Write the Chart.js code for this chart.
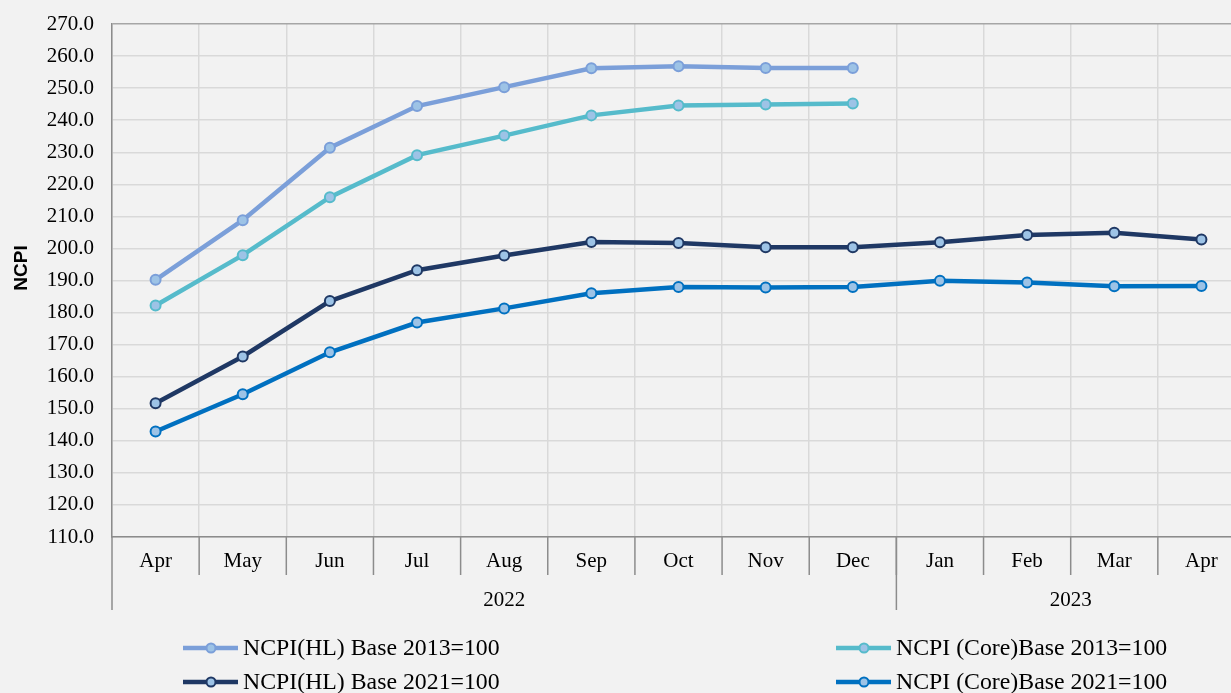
<!DOCTYPE html>
<html>
<head>
<meta charset="utf-8">
<script src="https://cdn.jsdelivr.net/npm/chart.js@4.4.0/dist/chart.umd.min.js"></script>
<style>
  html, body { margin: 0; padding: 0; background: #f2f2f2; overflow: hidden; }
  #wrap { width: 1231px; height: 693px; overflow: hidden; }
  canvas { display: block; }
</style>
</head>
<body>
<div id="wrap"><canvas id="ncpiChart" width="1252" height="693"></canvas></div>
<script>
const months = ['Apr', 'May', 'Jun', 'Jul', 'Aug', 'Sep', 'Oct', 'Nov', 'Dec', 'Jan', 'Feb', 'Mar', 'Apr'];
const years = ['2022', '2023'];
const yearSpans = [9, 4]; // number of months in each year group

const hl2013 = [190.2, 208.8, 231.4, 244.4, 250.3, 256.2, 256.8, 256.3, 256.3, null, null, null, null];
const core2013 = [182.2, 197.9, 216.0, 229.1, 235.2, 241.5, 244.6, 244.9, 245.2, null, null, null, null];
const hl2021 = [151.7, 166.3, 183.6, 193.2, 197.8, 202.0, 201.7, 200.4, 200.4, 201.9, 204.2, 204.9, 202.8];
const core2021 = [142.9, 154.5, 167.6, 176.9, 181.3, 186.0, 188.0, 187.8, 188.0, 189.9, 189.4, 188.2, 188.3];

const seriesNames = ['NCPI(HL) Base 2013=100', 'NCPI (Core)Base 2013=100', 'NCPI(HL) Base 2021=100', 'NCPI (Core)Base 2021=100'];
const lineColors = ['#7b9fd9', '#56bbcb', '#1f3864', '#0070c0'];
const markerFill = '#9dc3e6';

const serif = '"Liberation Serif", "Times New Roman", serif';

function makeSet(i, data) {
  return {
    label: seriesNames[i],
    data: data,
    borderColor: lineColors[i],
    backgroundColor: markerFill,
    borderWidth: 4.5,
    pointRadius: 5,
    pointBorderWidth: 2,
    pointBorderColor: lineColors[i],
    pointBackgroundColor: markerFill,
    tension: 0,
    spanGaps: false
  };
}

// month labels, two-level year labels, and the legend
const extrasPlugin = {
  id: 'extras',
  afterDraw(chart) {
    const ctx = chart.ctx;
    const x = chart.scales.x;
    const area = chart.chartArea;
    const half = (x.getPixelForValue(1) - x.getPixelForValue(0)) / 2;
    const bottom = area.bottom;

    ctx.save();
    ctx.strokeStyle = '#8c8c8c';
    ctx.lineWidth = 1.5;
    ctx.fillStyle = '#000';
    ctx.textAlign = 'center';
    ctx.textBaseline = 'middle';
    ctx.font = '21px ' + serif;

    // month row
    months.forEach((m, i) => {
      const cx = x.getPixelForValue(i);
      ctx.fillText(m, cx, bottom + 24);
      if (i > 0) {
        ctx.beginPath();
        ctx.moveTo(cx - half, bottom);
        ctx.lineTo(cx - half, bottom + 38);
        ctx.stroke();
      }
    });

    // year row
    let start = 0;
    years.forEach((y, g) => {
      const end = start + yearSpans[g] - 1;
      const left = x.getPixelForValue(start) - half;
      const right = x.getPixelForValue(end) + half;
      ctx.fillText(y, (left + right) / 2, bottom + 63);
      ctx.beginPath();
      ctx.moveTo(left, bottom);
      ctx.lineTo(left, bottom + 73);
      ctx.stroke();
      start = end + 1;
    });

    // y title
    ctx.save();
    ctx.translate(22, 268);
    ctx.rotate(-Math.PI / 2);
    ctx.font = 'bold 19px "Liberation Sans", Arial, sans-serif';
    ctx.fillText('NCPI', 0, 0);
    ctx.restore();

    // legend
    const cols = [183, 836];
    const rows = [648, 682];
    ctx.font = '23.8px ' + serif;
    ctx.textAlign = 'left';
    seriesNames.forEach((name, i) => {
      const lx = cols[i % 2];
      const ly = rows[Math.floor(i / 2)];
      ctx.strokeStyle = lineColors[i];
      ctx.lineWidth = 4.5;
      ctx.beginPath();
      ctx.moveTo(lx, ly);
      ctx.lineTo(lx + 55, ly);
      ctx.stroke();
      ctx.beginPath();
      ctx.arc(lx + 28, ly, 4.5, 0, Math.PI * 2);
      ctx.fillStyle = markerFill;
      ctx.fill();
      ctx.lineWidth = 2;
      ctx.stroke();
      ctx.fillStyle = '#000';
      ctx.fillText(name, lx + 60, ly + 1);
    });
    ctx.restore();
  }
};

document.addEventListener('DOMContentLoaded', function () {
  const ctx = document.getElementById('ncpiChart').getContext('2d');
  new Chart(ctx, {
    type: 'line',
    data: {
      labels: months,
      datasets: [makeSet(0, hl2013), makeSet(1, core2013), makeSet(2, hl2021), makeSet(3, core2021)]
    },
    plugins: [extrasPlugin],
    options: {
      responsive: false,
      animation: false,
      layout: { padding: { top: 24, left: 0, right: 1, bottom: 0 } },
      plugins: {
        legend: { display: false },
        tooltip: { enabled: false }
      },
      scales: {
        x: {
          type: 'category',
          offset: true,
          ticks: { display: false },
          grid: { offset: true, color: '#d9d9d9', lineWidth: 1.5, drawTicks: false },
          border: { display: true, color: '#8c8c8c', width: 1.5 },
          afterFit(scale) { scale.height = 156; }
        },
        y: {
          min: 110,
          max: 270,
          ticks: {
            stepSize: 10,
            padding: 18,
            color: '#000',
            font: { family: serif, size: 21 },
            callback: v => v.toFixed(1)
          },
          grid: {
            color: c => (c.tick && c.tick.value === 270 ? '#a6a6a6' : '#d9d9d9'),
            lineWidth: 1.5,
            drawTicks: false
          },
          border: { display: true, color: '#8c8c8c', width: 1.5 },
          afterFit(scale) {
            scale.width = 112;
            scale.paddingTop = 0;
            scale.paddingBottom = 0;
          }
        }
      }
    }
  });
});
</script>
</body>
</html>
